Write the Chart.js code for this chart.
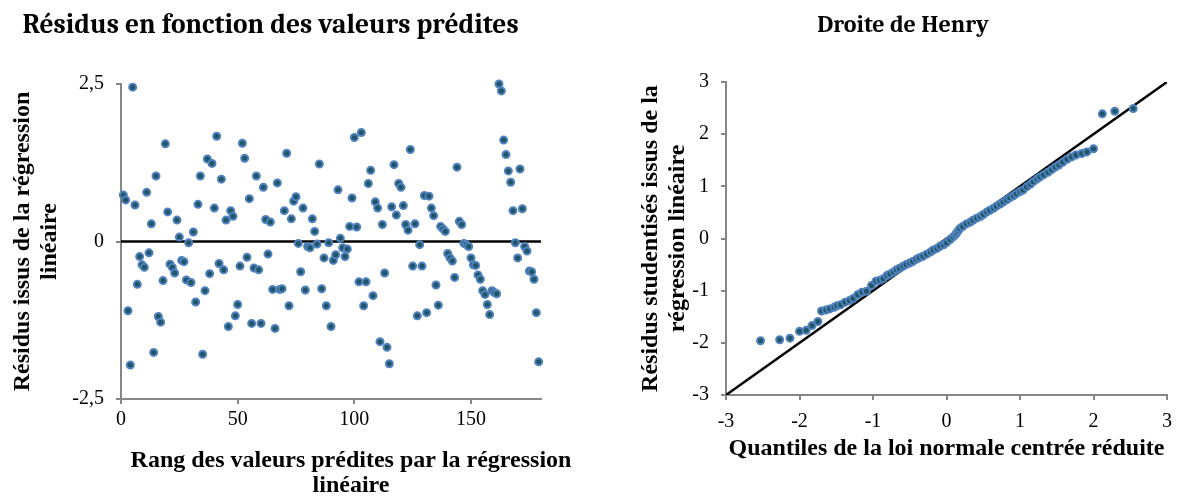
<!DOCTYPE html>
<html>
<head>
<meta charset="utf-8">
<title>Résidus et droite de Henry</title>
<script src="https://cdn.jsdelivr.net/npm/chart.js@4.4.1/dist/chart.umd.min.js"></script>
<style>
    body { margin: 0; background: #fff; width: 1178px; height: 498px; position: relative; overflow: hidden; }
    canvas { position: absolute; top: 0; }
</style>
</head>
<body>
<canvas id="residus" width="580" height="498" style="left:0"></canvas>
<canvas id="henry" width="554" height="498" style="left:628px"></canvas>
<script>
// residuals, in the order of the predicted values (rank 1 .. 179)
const residus = [
    0.74, 0.66, -1.10, -1.96, 2.45, 0.58, -0.68, -0.24, -0.37, -0.41,
    0.78, -0.18, 0.28, -1.76, 1.04, -1.19, -1.28, -0.62, 1.55, 0.47,
    -0.36, -0.41, -0.50, 0.34, 0.07, -0.30, -0.32, -0.61, -0.02, -0.65,
    0.15, -0.96, 0.59, 1.04, -1.79, -0.78, 1.31, -0.51, 1.24, 0.53,
    1.67, -0.35, 0.99, -0.45, 0.34, -1.35, 0.49, 0.40, -1.18, -1.00,
    -0.39, 1.56, 1.32, -0.25, 0.68, -1.30, -0.42, 1.04, -0.45, -1.30,
    0.86, 0.35, -0.20, 0.31, -0.76, -1.38, 0.93, -0.76, -0.75, 0.49,
    1.40, -1.02, 0.36, 0.64, 0.71, -0.03, -0.48, 0.53, -0.77, -0.08,
    -0.10, 0.36, 0.16, -0.04, 1.23, -0.75, -0.26, -1.02, -0.02, -1.35,
    -0.30, -0.21, 0.82, 0.05, -0.10, -0.24, -0.12, 0.24, 0.69, 1.65,
    0.23, -0.64, 1.73, -1.02, -0.64, 0.92, 1.13, -0.86, 0.63, 0.53,
    -1.59, 0.27, -0.50, -1.68, -1.94, 0.55, 1.22, 0.42, 0.92, 0.86,
    0.57, 0.27, 0.18, 1.46, -0.39, 0.28, -1.18, -0.05, -0.39, 0.73,
    -1.13, 0.72, 0.53, 0.41, -0.69, -1.01, 0.24, 0.20, 0.16, -0.19,
    -0.26, -0.31, -0.57, 1.18, 0.32, 0.27, -0.03, -0.05, -0.08, -0.26,
    -0.37, -0.38, -0.53, -0.60, -0.78, -0.84, -1.00, -1.16, -0.78, -0.81,
    -0.83, 2.50, 2.39, 1.61, 1.38, 1.12, 0.94, 0.49, -0.02, -0.26,
    1.15, 0.52, -0.08, -0.15, -0.47, -0.48, -0.60, -1.13, -1.91
];
const rangs = residus.map((v, i) => i + 1);
const zeroX = [0, 180];
const zeroY = [0, 0];

// droite de Henry: quantiles normaux / résidus studentisés
const quantiles = [
    -2.53, -2.27, -2.13, -2.00, -1.91, -1.83, -1.75, -1.70, -1.64, -1.59,
    -1.53, -1.49, -1.44, -1.38, -1.32, -1.27, -1.21, -1.15, -1.09, -1.02,
    -0.96, -0.91, -0.86, -0.81, -0.77, -0.72, -0.68, -0.64, -0.59, -0.55,
    -0.50, -0.46, -0.41, -0.37, -0.32, -0.27, -0.22, -0.18, -0.13, -0.09,
    -0.04, 0.00, 0.05, 0.09, 0.12, 0.14, 0.16, 0.18, 0.22, 0.27,
    0.32, 0.36, 0.41, 0.46, 0.50, 0.55, 0.59, 0.64, 0.68, 0.73,
    0.77, 0.82, 0.86, 0.91, 0.95, 1.00, 1.04, 1.09, 1.14, 1.18,
    1.23, 1.27, 1.32, 1.38, 1.43, 1.48, 1.53, 1.58, 1.64, 1.70,
    1.76, 1.84, 1.91, 2.00, 2.12, 2.29, 2.54
];
const studentises = [
    -1.96, -1.94, -1.91, -1.78, -1.76, -1.67, -1.59, -1.39, -1.37, -1.35,
    -1.32, -1.29, -1.27, -1.22, -1.19, -1.15, -1.08, -1.03, -1.01, -0.90,
    -0.82, -0.80, -0.77, -0.71, -0.68, -0.64, -0.60, -0.57, -0.53, -0.50,
    -0.47, -0.44, -0.40, -0.37, -0.34, -0.30, -0.26, -0.22, -0.19, -0.15,
    -0.12, -0.08, -0.02, 0.03, 0.07, 0.11, 0.15, 0.19, 0.23, 0.28,
    0.31, 0.35, 0.39, 0.42, 0.46, 0.51, 0.54, 0.58, 0.62, 0.66,
    0.70, 0.74, 0.78, 0.82, 0.86, 0.90, 0.93, 0.99, 1.04, 1.09,
    1.14, 1.18, 1.22, 1.27, 1.32, 1.37, 1.41, 1.46, 1.52, 1.56,
    1.60, 1.63, 1.66, 1.72, 2.39, 2.44, 2.49
];
const henryX = [-3, 3];
const henryY = [-3, 3];

const serif = '"Liberation Serif", "Times New Roman", serif';
const titleFont = '"Cambria", "Liberation Serif", serif';
const markerFill = '#1f5566';
const markerEdge = '#4f81bd';
const axisGray = '#868686';

Chart.defaults.font.family = serif;
Chart.defaults.color = '#000';

function pts(xs, ys) {
    return xs.map((x, i) => ({ x: x, y: ys[i] }));
}

function axis(min, max, step, title, opts) {
    return {
        type: 'linear',
        min: min,
        max: max,
        ticks: {
            stepSize: step,
            includeBounds: false,
            padding: opts.tickPadding,
            font: { size: 20 },
            color: '#000',
            callback: v => String(v).replace('.', ',')
        },
        grid: { drawOnChartArea: false, drawTicks: true, tickLength: 5, color: axisGray, lineWidth: 2 },
        border: { display: true, color: axisGray, width: 2 },
        title: {
            display: title !== null,
            text: title || '',
            color: '#000',
            font: { size: 24, weight: 'bold', lineHeight: opts.titleLine },
            padding: opts.titlePadding
        },
        afterFit: opts.fit
    };
}

function markers(xs, ys) {
    return {
        type: 'scatter',
        data: pts(xs, ys),
        backgroundColor: markerFill,
        borderColor: markerEdge,
        borderWidth: 2,
        pointRadius: 3.5,
        clip: false,
        order: 1
    };
}

function blackLine(xs, ys) {
    return {
        type: 'line',
        data: pts(xs, ys),
        borderColor: '#000',
        borderWidth: 2.5,
        pointRadius: 0,
        fill: false,
        order: 2
    };
}

function chartTitle(text, size, bottom) {
    return {
        display: true,
        text: text,
        color: '#000',
        font: { family: titleFont, size: size, weight: 'bold', lineHeight: 1.2 },
        padding: { top: 25 - size * 0.6, bottom: bottom - size * 0.6 }
    };
}

// x title of the left chart sits a bit right of the plot centre (as in the original)
const rangTitle = ['Rang des valeurs prédites par la régression', 'linéaire'];
const offCentreTitle = {
    id: 'offCentreTitle',
    afterDraw(chart) {
        const ctx = chart.ctx;
        ctx.save();
        ctx.font = 'bold 24px ' + serif;
        ctx.fillStyle = '#000';
        ctx.textAlign = 'center';
        ctx.textBaseline = 'middle';
        rangTitle.forEach((line, i) => ctx.fillText(line, 351, 461 + i * 25));
        ctx.restore();
    }
};

// Résidus en fonction des valeurs prédites
new Chart(document.getElementById('residus'), {
    type: 'scatter',
    data: { datasets: [markers(rangs, residus), blackLine(zeroX, zeroY)] },
    options: {
        responsive: false,
        animation: false,
        layout: { padding: { left: 0, right: 39, top: 0, bottom: 0 } },
        plugins: {
            legend: { display: false },
            tooltip: { enabled: false },
            title: chartTitle('Résidus en fonction des valeurs prédites', 27.5, 59)
        },
        scales: {
            x: axis(0, 180, 50, null, {
                tickPadding: 4, titleLine: 1.05, titlePadding: 0,
                fit: s => { s.height = 99; }
            }),
            y: axis(-2.5, 2.5, 2.5, ['Résidus issus de la régression', 'linéaire'], {
                tickPadding: 12, titleLine: 1.1, titlePadding: { top: 10, bottom: 0 },
                fit: s => { s.width = 121; }
            })
        }
    },
    plugins: [offCentreTitle]
});

// Droite de Henry
new Chart(document.getElementById('henry'), {
    type: 'scatter',
    data: { datasets: [markers(quantiles, studentises), blackLine(henryX, henryY)] },
    options: {
        responsive: false,
        animation: false,
        layout: { padding: { left: 6, right: 10, top: 0, bottom: 0 } },
        plugins: {
            legend: { display: false },
            tooltip: { enabled: false },
            title: chartTitle('Droite de Henry', 24, 57)
        },
        scales: {
            x: axis(-3, 3, 1, 'Quantiles de la loi normale centrée réduite', {
                tickPadding: 10, titleLine: 1.2, titlePadding: { top: 0, bottom: 35 },
                fit: s => { s.height = 103; }
            }),
            y: axis(-3, 3, 1, ['Résidus studentisés issus de la', 'régression linéaire'], {
                tickPadding: 12, titleLine: 1.1, titlePadding: { top: 4, bottom: 0 },
                fit: s => { s.width = 92; }
            })
        }
    }
});
</script>
</body>
</html>
